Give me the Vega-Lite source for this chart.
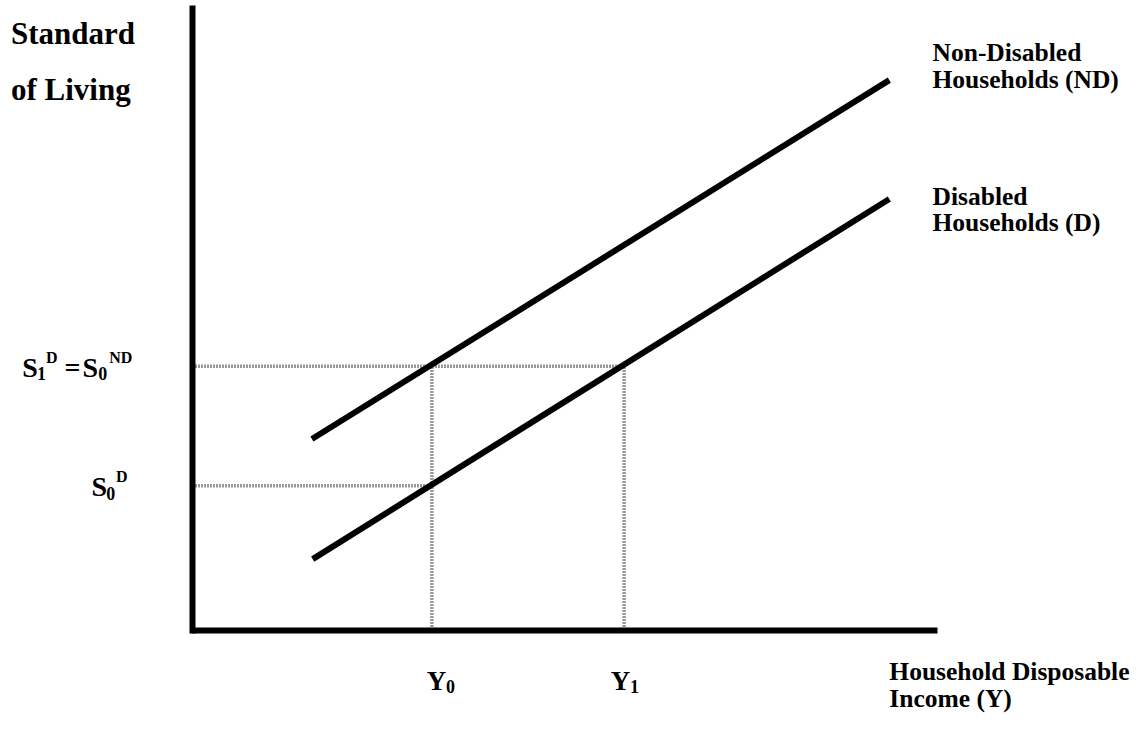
{
  "$schema": "https://vega.github.io/schema/vega-lite/v6.json",
  "width": 745,
  "height": 622,
  "autosize": "none",
  "padding": {"left": 192, "top": 8, "right": 207, "bottom": 101},
  "background": "white",
  "config": {"view": {"stroke": null}, "font": "Liberation Serif"},
  "datasets": {
    "curves": [
      {"series": "ND", "x": 16.1, "y": 30.7},
      {"series": "ND", "x": 93.6, "y": 88.4},
      {"series": "D", "x": 16.2, "y": 11.4},
      {"series": "D", "x": 93.6, "y": 69.3}
    ],
    "guides": [
      {"x": 0.4, "x2": 58.0, "y": 42.4, "y2": 42.4},
      {"x": 0.4, "x2": 32.2, "y": 23.2, "y2": 23.2},
      {"x": 32.2, "x2": 32.2, "y": 0, "y2": 42.4},
      {"x": 58.0, "x2": 58.0, "y": 0, "y2": 42.4}
    ],
    "labels": [
      {"kind": "title", "text": "Standard", "x": -24.3, "y": 94.2},
      {"kind": "title", "text": "of Living", "x": -24.3, "y": 85.2},
      {"kind": "main", "text": "S", "x": -22.8, "y": 40.7},
      {"kind": "sub", "text": "1", "x": -20.8, "y": 40.7},
      {"kind": "sup", "text": "D", "x": -19.6, "y": 40.7},
      {"kind": "main", "text": "=", "x": -17.1, "y": 40.7},
      {"kind": "main", "text": "S", "x": -14.7, "y": 40.7},
      {"kind": "sub", "text": "0", "x": -12.6, "y": 40.7},
      {"kind": "sup", "text": "ND", "x": -11.1, "y": 40.7},
      {"kind": "main", "text": "S", "x": -13.5, "y": 21.5},
      {"kind": "sub", "text": "0", "x": -11.5, "y": 21.5},
      {"kind": "sup", "text": "D", "x": -10.2, "y": 21.5},
      {"kind": "ylab", "text": "Y", "x": 31.5, "y": -9.6},
      {"kind": "sub", "text": "0", "x": 34.1, "y": -9.6},
      {"kind": "ylab", "text": "Y", "x": 56.2, "y": -9.6},
      {"kind": "sub", "text": "1", "x": 58.8, "y": -9.6},
      {"kind": "label", "text": "Non-Disabled", "x": 99.4, "y": 91.4},
      {"kind": "label", "text": "Households (ND)", "x": 99.4, "y": 87.1},
      {"kind": "label", "text": "Disabled", "x": 99.4, "y": 68.4},
      {"kind": "label", "text": "Households (D)", "x": 99.4, "y": 64.1},
      {"kind": "label", "text": "Household Disposable", "x": 93.6, "y": -8.1},
      {"kind": "label", "text": "Income (Y)", "x": 93.6, "y": -12.4}
    ]
  },
  "encoding": {
    "x": {
      "field": "x", "type": "quantitative",
      "scale": {"domain": [0, 100], "nice": false, "zero": false},
      "axis": {"orient": "bottom", "labels": false, "ticks": false, "grid": false, "title": null,
               "domainColor": "black", "domainWidth": 6, "zindex": 1}
    },
    "y": {
      "field": "y", "type": "quantitative",
      "scale": {"domain": [0, 100], "nice": false, "zero": false},
      "axis": {"orient": "left", "labels": false, "ticks": false, "grid": false, "title": null,
               "domainColor": "black", "domainWidth": 6, "domainCap": "square", "zindex": 1}
    }
  },
  "layer": [
    {
      "data": {"name": "guides"},
      "mark": {"type": "rule", "color": "#999999", "strokeWidth": 3.5, "strokeDash": [2, 1]},
      "encoding": {"x2": {"field": "x2"}, "y2": {"field": "y2"}}
    },
    {
      "data": {"name": "curves"},
      "mark": {"type": "line", "color": "black", "strokeWidth": 6, "strokeCap": "butt"},
      "encoding": {"detail": {"field": "series"}}
    },
    {
      "data": {"name": "labels"},
      "transform": [{"filter": "datum.kind === 'title'"}],
      "mark": {"type": "text", "align": "left", "baseline": "alphabetic", "fontSize": 31, "fontWeight": "bold", "font": "Liberation Serif", "color": "black"},
      "encoding": {"text": {"field": "text"}}
    },
    {
      "data": {"name": "labels"},
      "transform": [{"filter": "datum.kind === 'label'"}],
      "mark": {"type": "text", "align": "left", "baseline": "alphabetic", "fontSize": 25.5, "fontWeight": "bold", "font": "Liberation Serif", "color": "black"},
      "encoding": {"text": {"field": "text"}}
    },
    {
      "data": {"name": "labels"},
      "transform": [{"filter": "datum.kind === 'main'"}],
      "mark": {"type": "text", "align": "left", "baseline": "alphabetic", "fontSize": 28, "fontWeight": "bold", "font": "Liberation Serif", "color": "black"},
      "encoding": {"text": {"field": "text"}}
    },
    {
      "data": {"name": "labels"},
      "transform": [{"filter": "datum.kind === 'ylab'"}],
      "mark": {"type": "text", "align": "left", "baseline": "alphabetic", "fontSize": 27, "fontWeight": "bold", "font": "Liberation Serif", "color": "black"},
      "encoding": {"text": {"field": "text"}}
    },
    {
      "data": {"name": "labels"},
      "transform": [{"filter": "datum.kind === 'sub'"}],
      "mark": {"type": "text", "align": "left", "baseline": "alphabetic", "fontSize": 18, "fontWeight": "bold", "font": "Liberation Serif", "color": "black", "dy": 3.5},
      "encoding": {"text": {"field": "text"}}
    },
    {
      "data": {"name": "labels"},
      "transform": [{"filter": "datum.kind === 'sup'"}],
      "mark": {"type": "text", "align": "left", "baseline": "alphabetic", "fontSize": 16, "fontWeight": "bold", "font": "Liberation Serif", "color": "black", "dy": -14},
      "encoding": {"text": {"field": "text"}}
    }
  ]
}
